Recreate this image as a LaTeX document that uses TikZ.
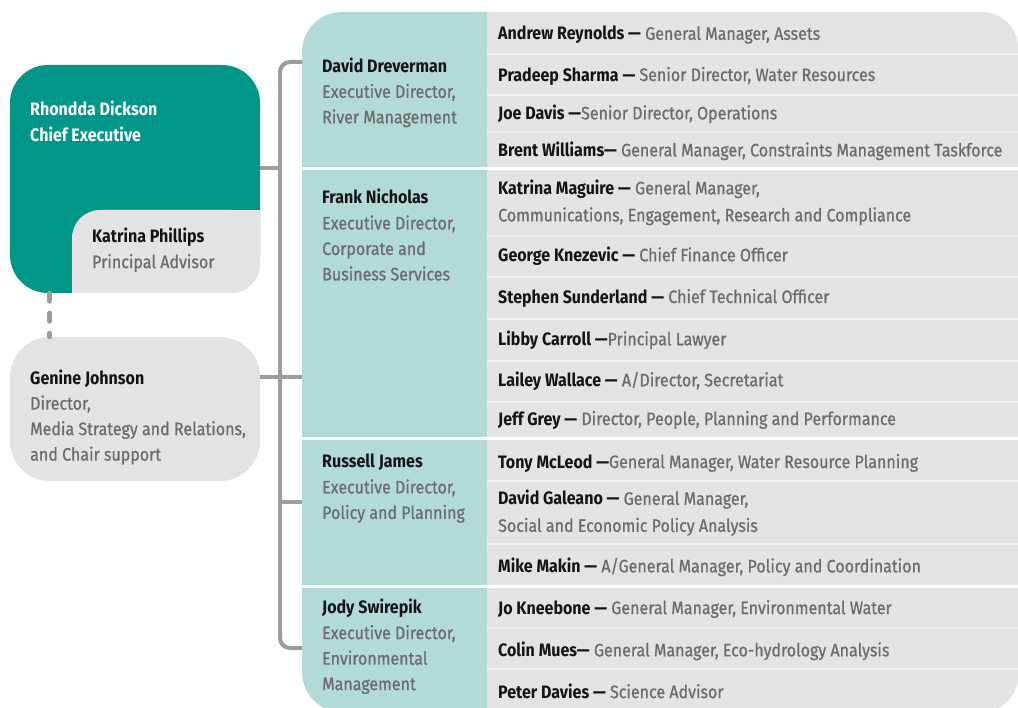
\documentclass[tikz,border=0pt]{standalone}
\usepackage{fontspec}
\setmainfont{Fira Sans}[FakeStretch=0.89]
\newfontfamily\titlefont{Fira Sans}[FakeStretch=0.89, FakeBold=0.8]
\definecolor{chiefteal}{RGB}{0,150,136}
\definecolor{panelteal}{RGB}{178,219,215}
\definecolor{boxgrey}{RGB}{227,227,227}
\definecolor{rowline}{RGB}{240,240,240}
\definecolor{busgrey}{RGB}{160,156,154}
\definecolor{namecol}{RGB}{20,20,20}
\definecolor{titlecol}{RGB}{108,108,108}
\newcommand{\pname}[1]{{\bfseries\color{namecol}#1}}
\newcommand{\ptitle}[1]{{\titlefont\color{titlecol}#1}}
\begin{document}
\begin{tikzpicture}[x=1pt,y=-1pt,
        every node/.style={inner sep=0pt},
        txt/.style={anchor=west, align=left, font=\fontsize{18}{25.5}\selectfont},
        row/.style={txt, font=\fontsize{18}{27}\selectfont},
        chief box/.style={fill=chiefteal, rounded corners=38pt},
        grey box/.style={fill=boxgrey, rounded corners=38pt},
        bus line/.style={draw=busgrey, line width=4pt},
        dash link/.style={draw=busgrey, line width=5pt, line cap=round,
           dash pattern=on 8pt off 12pt},
        sep line/.style={draw=rowline, line width=1.8pt},
        cut line/.style={draw=white, line width=3pt},
    ]
    \useasboundingbox (0,0) rectangle (1018,708);
    % panels
    \begin{scope}
        \clip (0,0) rectangle (487,708);
        \fill[panelteal, rounded corners=40pt] (302,12) rectangle (600,712);
    \end{scope}
    \begin{scope}
        \clip (487,0) rectangle (1018,708);
        \fill[boxgrey, rounded corners=36pt] (400,12) rectangle (1018,712);
    \end{scope}
    \foreach \y in {54,95,132,236,277,319,361,402,481,544,628,669}
        \draw[sep line] (487,\y) -- (1018,\y);
    \foreach \y in {169,439,586}
        \draw[cut line] (302,\y) -- (1018,\y);

    % left boxes
    \node[chief box, minimum width=250pt, minimum height=228pt] (chief) at (135,179) {};
    \node[grey box, rounded corners=28pt, minimum width=188pt, minimum height=83pt]
        (advisor) at (166,251.5) {};
    \fill[boxgrey] (advisor.north east) rectangle ++(-40,30);
    \fill[boxgrey] (advisor.south west) rectangle ++(40,-30);
    \node[grey box, rounded corners=40pt, minimum width=250pt, minimum height=144pt]
        (media) at (135,409) {};

    \node[txt, font=\fontsize{18}{25.5}\selectfont\bfseries, text=white]
        (chieftext) at (30,121.5) {Rhondda Dickson\\Chief Executive};
    \node[txt] (advisortext) at (92,250)
        {\pname{Katrina Phillips}\\\ptitle{Principal Advisor}};
    \node[txt] (mediatext) at (30,417)
        {\pname{Genine Johnson}\\\ptitle{Director,}\\
         \ptitle{Media Strategy and Relations,}\\\ptitle{and Chair support}};

    % connectors
    \coordinate (bus n) at (302,62);
    \coordinate (bus s) at (302,648);
    \coordinate (bus ce) at (280,168);
    \coordinate (bus md) at (302,377);
    \coordinate (bus pp) at (302,502);
    \draw[bus line, rounded corners=10pt] (bus n) -- (280,62) -- (280,648) -- (bus s);
    \draw[bus line] (chief.east |- bus ce) -- (bus ce);
    \draw[bus line] (media.east |- bus md) -- (bus md);
    \draw[bus line] (bus ce |- bus pp) -- (bus pp);
    \draw[dash link] ([xshift=40pt]chief.south west) -- ([xshift=40pt]media.north west);

    % executive directors
    \node[txt] (river) at (322,92.5)
        {\pname{David Dreverman}\\\ptitle{Executive Director,}\\\ptitle{River Management}};
    \node[txt] (corporate) at (322,235)
        {\pname{Frank Nicholas}\\\ptitle{Executive Director,}\\\ptitle{Corporate and}\\
         \ptitle{Business Services}};
    \node[txt] (policy) at (322,488.5)
        {\pname{Russell James}\\\ptitle{Executive Director,}\\\ptitle{Policy and Planning}};
    \node[txt] (env) at (322,646.5)
        {\pname{Jody Swirepik}\\\ptitle{Executive Director,}\\\ptitle{Environmental}\\
         \ptitle{Management}};

    % managers
    \node[row] (assets) at (498,35)
        {\pname{Andrew Reynolds —} \ptitle{General Manager, Assets}};
    \node[row] (water) at (498,76)
        {\pname{Pradeep Sharma —} \ptitle{Senior Director, Water Resources}};
    \node[row] (ops) at (498,114)
        {\pname{Joe Davis —}\ptitle{Senior Director, Operations}};
    \node[row] (constraints) at (498,151)
        {\pname{Brent Williams—} \ptitle{General Manager, Constraints Management Taskforce}};
    \node[row] (comms) at (498,202.5)
        {\pname{Katrina Maguire —} \ptitle{General Manager,}\\
         \ptitle{Communications, Engagement, Research and Compliance}};
    \node[row] (finance) at (498,256)
        {\pname{George Knezevic —} \ptitle{Chief Finance Officer}};
    \node[row] (tech) at (498,298)
        {\pname{Stephen Sunderland —} \ptitle{Chief Technical Officer}};
    \node[row] (legal) at (498,340)
        {\pname{Libby Carroll —}\ptitle{Principal Lawyer}};
    \node[row] (secretariat) at (498,381)
        {\pname{Lailey Wallace —} \ptitle{A/Director, Secretariat}};
    \node[row] (people) at (498,420)
        {\pname{Jeff Grey —} \ptitle{Director, People, Planning and Performance}};
    \node[row] (planning) at (498,463)
        {\pname{Tony McLeod —}\ptitle{General Manager, Water Resource Planning}};
    \node[row] (social) at (498,513)
        {\pname{David Galeano —} \ptitle{General Manager,}\\
         \ptitle{Social and Economic Policy Analysis}};
    \node[row] (coord) at (498,567)
        {\pname{Mike Makin —} \ptitle{A/General Manager, Policy and Coordination}};
    \node[row] (envwater) at (498,609)
        {\pname{Jo Kneebone —} \ptitle{General Manager, Environmental Water}};
    \node[row] (ecohydro) at (498,651)
        {\pname{Colin Mues—} \ptitle{General Manager, Eco-hydrology Analysis}};
    \node[row] (science) at (498,691)
        {\pname{Peter Davies —} \ptitle{Science Advisor}};
\end{tikzpicture}
\end{document}
